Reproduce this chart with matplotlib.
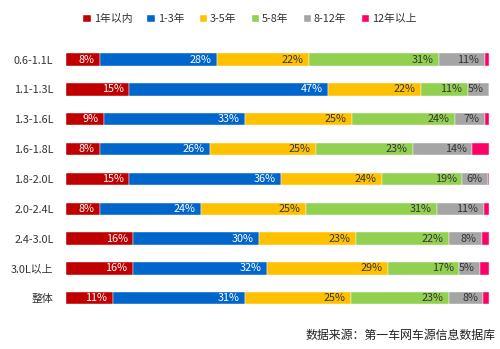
import matplotlib
matplotlib.use("Agg")
import matplotlib.pyplot as plt
import numpy as np

plt.rcParams['font.family'] = ['Noto Sans CJK SC', 'DejaVu Sans']

categories = ["0.6-1.1L", "1.1-1.3L", "1.3-1.6L", "1.6-1.8L", "1.8-2.0L",
              "2.0-2.4L", "2.4-3.0L", "3.0L以上", "整体"]
series_names = ["1年以内", "1-3年", "3-5年", "5-8年", "8-12年", "12年以上"]
s_lt1 = [8, 15, 9, 8, 15, 8, 16, 16, 11]
s_1_3 = [28, 47, 33, 26, 36, 24, 30, 32, 31]
s_3_5 = [22, 22, 25, 25, 24, 25, 23, 29, 25]
s_5_8 = [31, 11, 24, 23, 19, 31, 22, 17, 23]
s_8_12 = [11, 5, 7, 14, 6, 11, 8, 5, 8]
s_gt12 = [1, 0, 1, 4, 0.3, 1.3, 1.6, 2.1, 1.3]
source_text = "数据来源：第一车网车源信息数据库"

colors = ["#C00000", "#0066CC", "#FFC000", "#92D050", "#A5A5A5", "#FF0066"]
text_colors = ["white", "white", "#333333", "#333333", "#333333", None]

data = np.array([s_lt1, s_1_3, s_3_5, s_5_8, s_8_12, s_gt12], dtype=float)
totals = data.sum(axis=0)
norm = data / totals * 100

fig = plt.figure(figsize=(5.0, 3.49), dpi=100)
ax = fig.add_axes([0.132, 0.1026, 0.846, 0.7694])

y = np.arange(len(categories))
left = np.zeros(len(categories))
handles = []
for i, name in enumerate(series_names):
    h = ax.barh(y, norm[i], left=left, height=0.41, color=colors[i],
                edgecolor="white", linewidth=0.3, label=name)
    handles.append(h)
    if text_colors[i] is not None:
        for j in range(len(categories)):
            v = data[i][j]
            if v >= 4.5:
                ax.text(left[j] + norm[i][j] - 1.3, y[j], f"{int(round(v))}%",
                        ha="right", va="center", fontsize=7.8,
                        color=text_colors[i])
    left += norm[i]

ax.set_xlim(0, 100)
ax.set_ylim(len(categories) - 0.5, -0.5)
ax.set_yticks(y)
ax.set_yticklabels(categories, fontsize=7.8, color="#333333")
ax.tick_params(axis="y", length=0, pad=9)
ax.set_xticks([])
for sp in ax.spines.values():
    sp.set_visible(False)

fig.legend(handles=handles, labels=series_names, loc="center",
           bbox_to_anchor=(0.5, 0.945), ncol=6, frameon=False,
           fontsize=7.8, handlelength=0.7, handleheight=0.7,
           handletextpad=0.25, columnspacing=1.4, labelcolor="#333333")

fig.text(0.99, 0.04, source_text, ha="right", va="center", fontsize=8.6,
         color="#222222")

fig.savefig("out.png", dpi=100)
